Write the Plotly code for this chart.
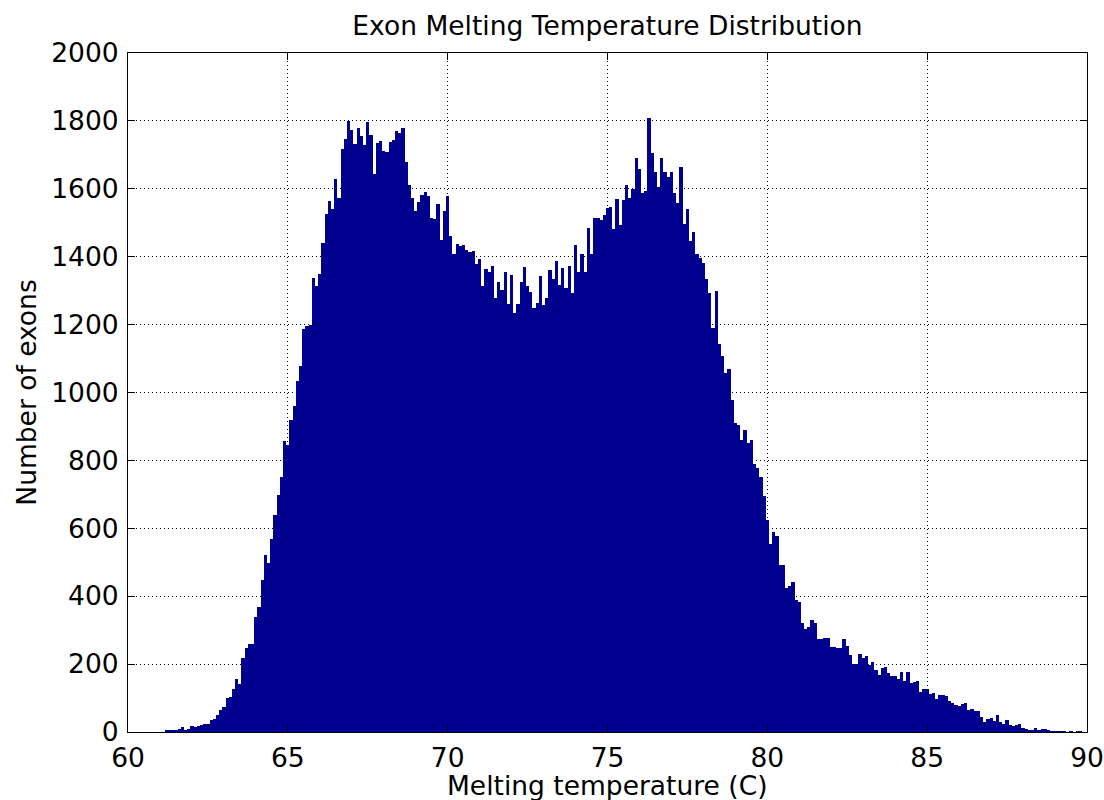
import plotly.graph_objects as go

# Histogram of exon melting temperatures: bins of 0.1 C, first bin centred at 61.1 C
bin_first_center = 61.1
bin_width = 0.1

counts_61_to_68 = [
    0, 5, 3, 5, 3, 10, 15, 4, 9, 19, 15, 18, 20, 24, 24, 34, 37, 51, 64, 74,
    99, 104, 127, 155, 140, 219, 246, 260, 259, 340, 367, 449, 522, 499, 568, 638,
    699, 750, 856, 845, 918, 961, 1033, 1078, 1188, 1195, 1199, 1338, 1315, 1348,
    1441, 1525, 1564, 1541, 1628, 1574, 1716, 1748, 1800, 1773, 1731, 1778, 1756,
    1728, 1798, 1758, 1643, 1736, 1741, 1712, 1708, 1739,
]
counts_68_to_75 = [
    1744, 1769, 1764, 1778, 1679, 1610, 1572, 1535, 1561, 1582, 1591, 1579, 1515,
    1510, 1556, 1449, 1536, 1579, 1461, 1409, 1438, 1431, 1435, 1419, 1415, 1416,
    1379, 1394, 1315, 1363, 1356, 1372, 1277, 1325, 1302, 1356, 1261, 1345, 1234,
    1261, 1325, 1369, 1315, 1296, 1250, 1264, 1342, 1258, 1279, 1361, 1335, 1386,
    1318, 1366, 1307, 1374, 1294, 1434, 1354, 1407, 1354, 1485, 1408, 1515, 1513,
    1507, 1523, 1542, 1546, 1481, 1569, 1492,
]
counts_75_to_82 = [
    1566, 1612, 1572, 1598, 1691, 1659, 1589, 1594, 1808, 1704, 1650, 1605, 1691,
    1650, 1635, 1650, 1589, 1559, 1664, 1495, 1540, 1446, 1474, 1407, 1397, 1382,
    1333, 1294, 1191, 1298, 1143, 1107, 1056, 1070, 979, 910, 903, 860, 890, 851,
    860, 790, 777, 751, 695, 624, 553, 588, 577, 491, 491, 425, 430, 443, 389, 384,
    320, 303, 310, 330, 320, 275, 275, 278, 278, 251, 249, 246, 246, 273, 253, 228,
]
counts_82_to_90 = [
    201, 201, 231, 218, 223, 196, 206, 182, 169, 189, 192, 174, 164, 164, 157, 176,
    149, 176, 144, 147, 151, 119, 127, 127, 113, 115, 97, 110, 110, 105, 90, 86, 80,
    77, 82, 86, 64, 69, 62, 61, 43, 30, 38, 40, 32, 49, 30, 25, 35, 20, 18, 22, 25,
    13, 9, 6, 5, 11, 4, 8, 10, 3, 1, 2, 2, 2, 1, 0, 2, 0, 2, 1,
]
counts = counts_61_to_68 + counts_68_to_75 + counts_75_to_82 + counts_82_to_90

x_ticks = [60, 65, 70, 75, 80, 85, 90]
y_ticks = [0, 200, 400, 600, 800, 1000, 1200, 1400, 1600, 1800, 2000]

title_text = "Exon Melting Temperature Distribution"
x_title = "Melting temperature (C)"
y_title = "Number of exons"

FONT = "DejaVu Sans, Liberation Sans, Arial, sans-serif"
FS = 26.5

fig = go.Figure(
    go.Bar(
        y=counts,
        x0=bin_first_center,
        dx=bin_width,
        marker=dict(color="#00008F", line=dict(width=0)),
        hoverinfo="x+y",
    )
)

axis_common = dict(
    showline=True,
    linecolor="black",
    linewidth=1,
    mirror="ticks",
    ticks="inside",
    ticklen=7,
    tickcolor="black",
    tickwidth=1,
    showgrid=True,
    gridcolor="black",
    gridwidth=1,
    griddash="1px,3px",
    zeroline=False,
    automargin=False,
    tickfont=dict(family=FONT, size=FS, color="black"),
)

fig.update_layout(
    width=1104,
    height=800,
    paper_bgcolor="white",
    plot_bgcolor="white",
    bargap=0,
    showlegend=False,
    margin=dict(l=128, r=17, t=53, b=68, autoexpand=False),
    font=dict(family=FONT, size=FS, color="black"),
    title=dict(
        text=title_text,
        x=0.5,
        xref="paper",
        xanchor="center",
        y=1 - 26 / 800,
        yref="container",
        yanchor="middle",
        font=dict(family=FONT, size=FS, color="black"),
    ),
    xaxis=dict(
        range=[60, 90],
        tickvals=x_ticks,
        ticktext=[str(v) for v in x_ticks],
        ticklabelstandoff=2,
        **axis_common,
    ),
    yaxis=dict(
        range=[0, 2000],
        tickvals=y_ticks,
        ticktext=[str(v) for v in y_ticks],
        title=dict(text=y_title, standoff=6, font=dict(family=FONT, size=FS)),
        ticklabelstandoff=3,
        **axis_common,
    ),
    annotations=[
        dict(
            text=x_title,
            xref="paper",
            yref="paper",
            x=0.5,
            y=0,
            xanchor="center",
            yanchor="middle",
            yshift=-53,
            showarrow=False,
            font=dict(family=FONT, size=FS, color="black"),
        )
    ],
)

fig.write_html("out.html")
